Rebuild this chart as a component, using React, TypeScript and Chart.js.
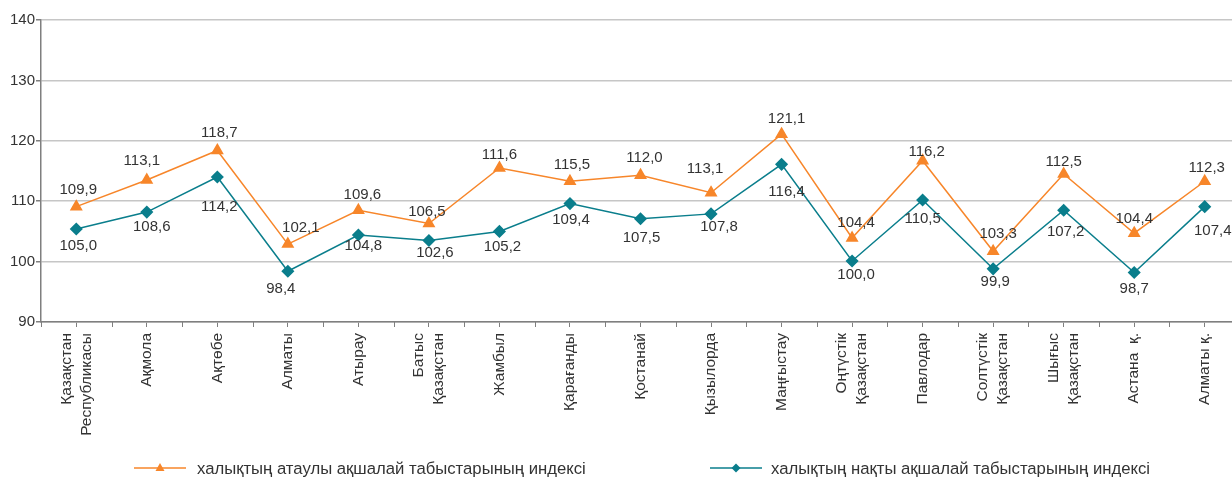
import React, { useEffect, useRef } from "react";
import { Chart, registerables } from "chart.js";

Chart.register(...registerables);

const categories: string[][] = [
  ["Қазақстан", "Республикасы"],
  ["Ақмола"],
  ["Ақтөбе"],
  ["Алматы"],
  ["Атырау"],
  ["Батыс", "Қазақстан"],
  ["Жамбыл"],
  ["Қарағанды"],
  ["Қостанай"],
  ["Қызылорда"],
  ["Маңғыстау"],
  ["Оңтүстік", "Қазақстан"],
  ["Павлодар"],
  ["Солтүстік", "Қазақстан"],
  ["Шығыс", "Қазақстан"],
  ["Астана  қ."],
  ["Алматы қ."],
];

const nominalValues = [
  109.1, 113.5, 118.4, 102.9, 108.5, 106.3, 115.5, 113.3, 114.3, 111.4, 121.1,
  103.9, 116.7, 101.7, 114.5, 104.7, 113.3,
];
const realValues = [
  105.4, 108.2, 114.0, 98.4, 104.4, 103.5, 105.0, 109.6, 107.1, 107.9, 116.1,
  100.1, 110.2, 98.8, 108.5, 98.2, 109.1,
];

const nominalLabels = [
  "109,9", "113,1", "118,7", "102,1", "109,6", "106,5", "111,6", "115,5", "112,0",
  "113,1", "121,1", "104,4", "116,2", "103,3", "112,5", "104,4", "112,3",
];
const realLabels = [
  "105,0", "108,6", "114,2", "98,4", "104,8", "102,6", "105,2", "109,4", "107,5",
  "107,8", "116,4", "100,0", "110,5", "99,9", "107,2", "98,7", "107,4",
];

const seriesNames = [
  "халықтың атаулы ақшалай табыстарының индексі",
  "халықтың нақты ақшалай табыстарының индексі",
];

const yTicks = [90, 100, 110, 120, 130, 140];

// label placement relative to each point [dx, dy] (layout only)
const nominalLabelOffsets: [number, number][] = [
  [2, -17], [-5, -19], [2, -18], [13, -16], [4, -15], [-2, -12], [0, -13],
  [2, -16], [4, -17], [-6, -24], [5, -15], [4, -15], [4, -9], [5, -17],
  [0, -12], [0, -14], [2, -13],
];
const realLabelOffsets: [number, number][] = [
  [2, 17], [5, 15], [2, 30], [-7, 18], [5, 11], [6, 12], [3, 15], [1, 16],
  [1, 19], [8, 13], [5, 28], [4, 14], [0, 19], [2, 13], [2, 22], [0, 16],
  [8, 24],
];

const ORANGE = "#F7862A";
const TEAL = "#0A7E8C";
const TEXT = "#333333";
const AXIS = "#7f7f7f";
const FONT = "'Liberation Sans', Arial, sans-serif";

const valueLabelPlugin = {
  id: "valueLabels",
  afterDatasetsDraw(chart: any) {
    const ctx = chart.ctx;
    ctx.save();
    ctx.font = `15px ${FONT}`;
    ctx.fillStyle = TEXT;
    ctx.textAlign = "center";
    ctx.textBaseline = "middle";
    const sets = [
      { idx: 0, labels: nominalLabels, off: nominalLabelOffsets },
      { idx: 1, labels: realLabels, off: realLabelOffsets },
    ];
    sets.forEach((s) => {
      const meta = chart.getDatasetMeta(s.idx);
      meta.data.forEach((pt: any, i: number) => {
        const [dx, dy] = s.off[i];
        ctx.fillText(s.labels[i], pt.x + dx, pt.y + dy);
      });
    });
    ctx.restore();
  },
};

const axisExtrasPlugin = {
  id: "axisExtras",
  afterDraw(chart: any) {
    const ctx = chart.ctx;
    const xs = chart.scales.x;
    const area = chart.chartArea;
    ctx.save();
    // boundary tick marks
    ctx.strokeStyle = AXIS;
    ctx.lineWidth = 1;
    const n = categories.length;
    const w = (area.right - area.left) / n;
    for (let i = 0; i <= n; i++) {
      const px = Math.round(area.left + i * w) + 0.5;
      ctx.beginPath();
      ctx.moveTo(px, area.bottom);
      ctx.lineTo(px, area.bottom + 5);
      ctx.stroke();
    }
    // category labels, rotated
    ctx.font = `15.5px ${FONT}`;
    ctx.fillStyle = TEXT;
    ctx.textAlign = "right";
    ctx.textBaseline = "middle";
    const lineGap = 20;
    categories.forEach((lines, i) => {
      const cx = xs.getPixelForValue(i);
      ctx.save();
      ctx.translate(cx, area.bottom + 11);
      ctx.rotate(-Math.PI / 2);
      lines.forEach((ln, j) => {
        const off = (j - (lines.length - 1) / 2) * lineGap;
        ctx.fillText(ln, 0, off);
      });
      ctx.restore();
    });
    // legend
    const ly = 468;
    const items = [
      { color: ORANGE, style: "triangle", x0: 134, x1: 186, tx: 197, name: seriesNames[0] },
      { color: TEAL, style: "rectRot", x0: 710, x1: 762, tx: 771, name: seriesNames[1] },
    ];
    ctx.font = `16.7px ${FONT}`;
    ctx.textBaseline = "middle";
    ctx.textAlign = "left";
    items.forEach((it) => {
      ctx.strokeStyle = it.color;
      ctx.lineWidth = 1.5;
      ctx.beginPath();
      ctx.moveTo(it.x0, ly);
      ctx.lineTo(it.x1, ly);
      ctx.stroke();
      ctx.fillStyle = it.color;
      const cx = (it.x0 + it.x1) / 2;
      ctx.beginPath();
      if (it.style === "triangle") {
        ctx.moveTo(cx, ly - 5);
        ctx.lineTo(cx + 4.5, ly + 3);
        ctx.lineTo(cx - 4.5, ly + 3);
      } else {
        ctx.moveTo(cx, ly - 4.5);
        ctx.lineTo(cx + 4.5, ly);
        ctx.lineTo(cx, ly + 4.5);
        ctx.lineTo(cx - 4.5, ly);
      }
      ctx.closePath();
      ctx.fill();
      ctx.fillStyle = TEXT;
      ctx.fillText(it.name, it.tx, ly + 1);
    });
    ctx.restore();
  },
};

export default function App() {
  const ref = useRef<HTMLCanvasElement | null>(null);
  useEffect(() => {
    document.body.style.margin = "0";
    if (!ref.current) return;
    const chart = new Chart(ref.current, {
      type: "line",
      data: {
        labels: categories.map((c) => c.join(" ")),
        datasets: [
          {
            label: seriesNames[0],
            data: nominalValues,
            borderColor: ORANGE,
            backgroundColor: ORANGE,
            borderWidth: 1.5,
            pointStyle: "triangle",
            pointRadius: 6,
            pointHoverRadius: 6,
            tension: 0,
            clip: false,
          },
          {
            label: seriesNames[1],
            data: realValues,
            borderColor: TEAL,
            backgroundColor: TEAL,
            borderWidth: 1.5,
            pointStyle: "rectRot",
            pointRadius: 5.5,
            pointHoverRadius: 5.5,
            tension: 0,
            clip: false,
          },
        ],
      },
      options: {
        responsive: false,
        animation: false,
        layout: { autoPadding: false, padding: { top: 20, right: 0, bottom: 0, left: 0 } },
        plugins: {
          legend: { display: false },
          tooltip: { enabled: false },
        },
        scales: {
          x: {
            offset: true,
            grid: {
              drawOnChartArea: false,
              offset: false,
              tickLength: 5,
              color: AXIS,
            },
            border: { color: AXIS, width: 1.5 },
            ticks: { display: false },
            afterFit(scale: any) {
              scale.height = 156;
              scale.paddingLeft = 0;
              scale.paddingRight = 0;
            },
          },
          y: {
            min: 90,
            max: 140,
            afterBuildTicks(scale: any) {
              scale.ticks = yTicks.map((v) => ({ value: v }));
            },
            grid: {
              color: "#c6c6c6",
              lineWidth: 1.5,
              tickLength: 5,
              tickColor: AXIS,
            },
            border: { color: AXIS, width: 1.5 },
            ticks: {
              padding: 1,
              color: TEXT,
              font: { family: FONT, size: 15 },
            },
            afterFit(scale: any) {
              scale.width = 41;
            },
          },
        },
      },
      plugins: [valueLabelPlugin, axisExtrasPlugin],
    });
    return () => chart.destroy();
  }, []);
  return (
    <div style={{ width: 1232, height: 478, overflow: "hidden" }}>
      <canvas ref={ref} width={1240} height={478} style={{ display: "block" }} />
    </div>
  );
}
